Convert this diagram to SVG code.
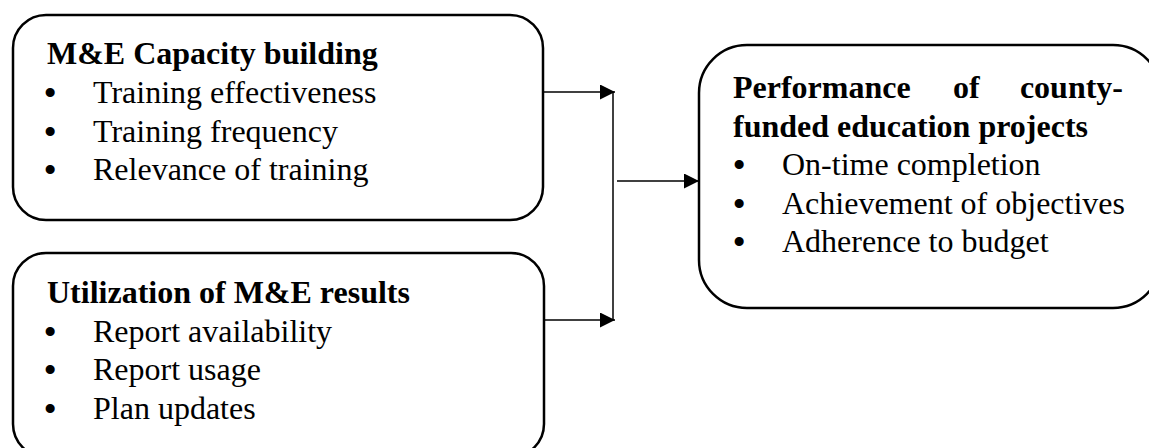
<svg xmlns="http://www.w3.org/2000/svg" width="1149" height="448" viewBox="0 0 1149 448">
<defs>
<style>
.box{fill:#fff;stroke:#000;stroke-width:2.5}
.t{font-family:"Liberation Serif","Times New Roman",serif;fill:#000;font-size:32px}
.h{font-weight:bold}
.b{font-family:"Liberation Serif","Times New Roman",serif;fill:#000;font-size:38px}
.c{fill:none;stroke:#000;stroke-width:1.5}
</style>
<marker id="ah" markerWidth="15" markerHeight="15" refX="15" refY="7.5" orient="auto" markerUnits="userSpaceOnUse">
<path d="M0,0 L15,7.5 L0,15 Z" fill="#000"/>
</marker>
</defs>
<rect width="1149" height="448" fill="#fff"/>
<g id="connectors">
<path class="c" d="M543,92 H615" marker-end="url(#ah)"/>
<path class="c" d="M543,320 H615" marker-end="url(#ah)"/>
<path class="c" d="M613,92 V320"/>
<path class="c" d="M617,181 H699" marker-end="url(#ah)"/>
</g>
<g id="capacity">
<rect class="box" x="13" y="15" width="530" height="205" rx="33" ry="33"/>
<text class="t h" x="47" y="64">M&amp;E Capacity building</text>
<text class="b" x="43.5" y="106">•</text>
<text class="t" x="93" y="103">Training effectiveness</text>
<text class="b" x="43.5" y="144.5">•</text>
<text class="t" x="93" y="141.5">Training frequency</text>
<text class="b" x="43.5" y="183">•</text>
<text class="t" x="93" y="180">Relevance of training</text>
</g>
<g id="utilization">
<rect class="box" x="13" y="253" width="531" height="204" rx="33" ry="33"/>
<text class="t h" x="47" y="303">Utilization of M&amp;E results</text>
<text class="b" x="43.5" y="344.5">•</text>
<text class="t" x="93" y="341.5">Report availability</text>
<text class="b" x="43.5" y="383">•</text>
<text class="t" x="93" y="380">Report usage</text>
<text class="b" x="43.5" y="421.5">•</text>
<text class="t" x="93" y="418.5">Plan updates</text>
</g>
<g id="performance">
<rect class="box" x="699" y="45" width="462" height="263" rx="48" ry="48"/>
<text class="t h" x="733" y="98">Performance</text>
<text class="t h" x="953" y="98">of</text>
<text class="t h" x="1123" y="98" text-anchor="end">county-</text>
<text class="t h" x="733" y="136.5">funded education projects</text>
<text class="b" x="732.5" y="178">•</text>
<text class="t" x="782" y="175">On-time completion</text>
<text class="b" x="732.5" y="216.5">•</text>
<text class="t" x="782" y="213.5">Achievement of objectives</text>
<text class="b" x="732.5" y="255">•</text>
<text class="t" x="782" y="252">Adherence to budget</text>
</g>
</svg>
